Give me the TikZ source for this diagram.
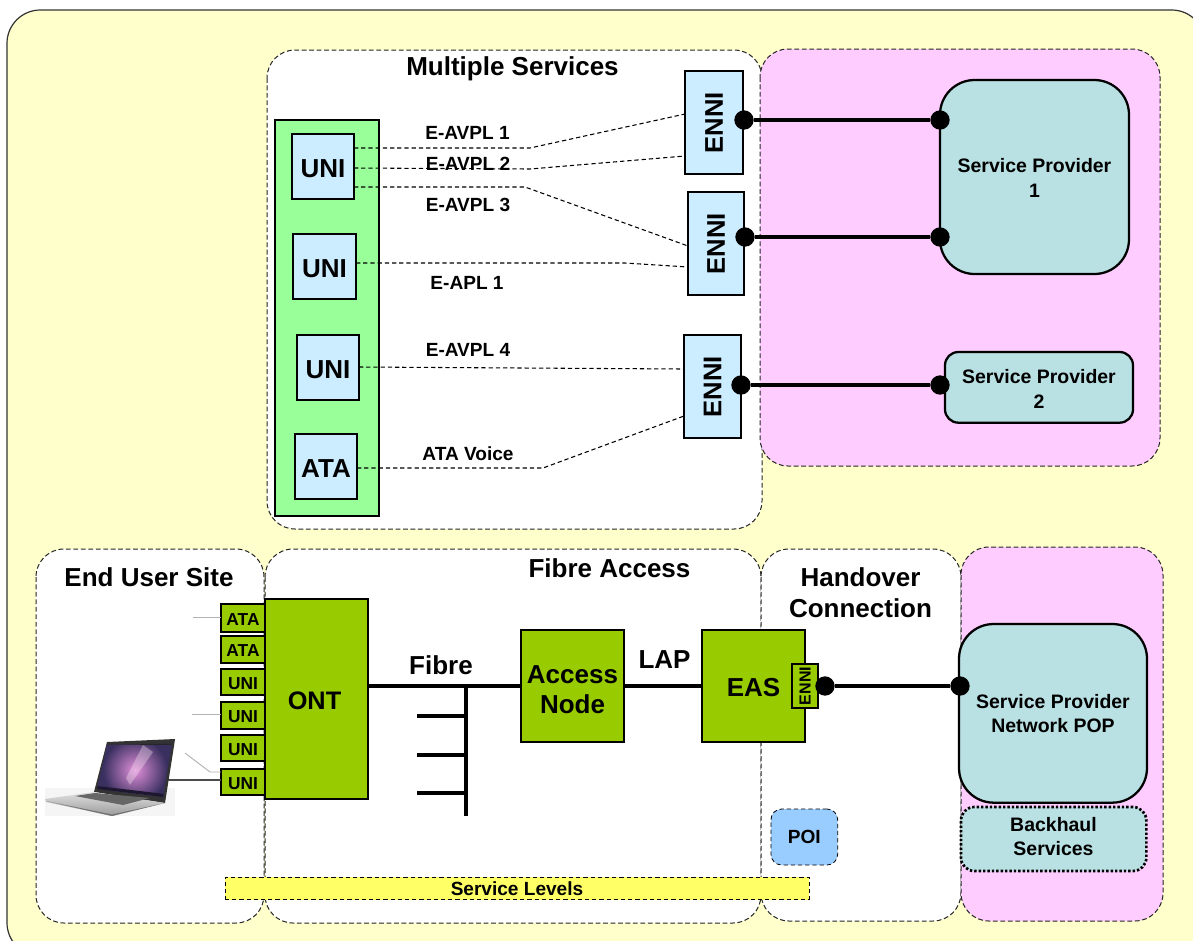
\documentclass[tikz,border=0pt]{standalone}
\usepackage{fontspec}
\setmainfont{Liberation Sans}
\definecolor{bgy}{HTML}{FFFFCC}
\definecolor{pinkb}{HTML}{FFCCFF}
\definecolor{mint}{HTML}{99FF99}
\definecolor{lblue}{HTML}{CCECFF}
\definecolor{teal2}{HTML}{B9E0E3}
\definecolor{olive2}{HTML}{99CC00}
\definecolor{poib}{HTML}{99CCFF}
\definecolor{yel}{HTML}{FFFF66}
\definecolor{scr}{HTML}{3A3060}
\definecolor{scrp}{HTML}{E090D8}
\newcommand{\fs}[1]{\fontsize{#1}{#1}\selectfont\bfseries}
\newcommand{\up}[1]{\rule{0pt}{#1pt}}
\tikzset{x=0.75pt,y=-0.75pt,every node/.style={outer sep=0pt},
  zone/.style={draw=black!85,dash pattern=on 3.6pt off 2pt,line width=0.75pt,rounded corners=21pt},
  ubox/.style={draw=black,line width=1.7pt,fill=lblue,inner sep=0pt,anchor=north west,align=center},
  gbox/.style={draw=black,line width=1.9pt,fill=olive2,inner sep=0pt,anchor=north west,align=center},
  sp/.style={draw=black,line width=1.7pt,fill=teal2,inner sep=0pt,anchor=north west,align=center},
  lbl/.style={inner sep=0pt,align=center,font=\fs{14.3}},
  title/.style={inner sep=0pt,align=center,font=\fs{19.5}},
  pipe/.style={line width=2.8pt,draw=black},
  svc/.style={draw=black,dash pattern=on 3.2pt off 2.2pt,line width=0.8pt},
  dot/.style={circle,fill=black,inner sep=0pt,minimum size=14.5pt},
  wire/.style={draw=black!30,line width=0.7pt}}
\newcommand{\bx}[6]{\node[#1,minimum width=#4*0.75pt,minimum height=#5*0.75pt] (#2) at (#3) {#6};}
\begin{document}
\begin{tikzpicture}
\useasboundingbox (0,0) rectangle (1193,940);
\clip (0,0) rectangle (1193,940);
\fill[white] (0,0) rectangle (1193,940);
\draw[fill=bgy,draw=black!80,line width=0.9pt,rounded corners=25pt] (7,10) rectangle (1205,956);
% zones
\draw[zone,fill=white] (267,50) rectangle (762,529);
\draw[zone,fill=pinkb] (760,49) rectangle (1160,466);
\draw[zone,fill=white] (36,549) rectangle (264,923);
\draw[zone,fill=white] (265,549) rectangle (761,923);
\draw[zone,fill=white] (761,549) rectangle (961,921);
\draw[zone,fill=pinkb] (961,547) rectangle (1163,921);
\node[title] (tms) at (512.5,68.5) {Multiple Services};
\node[title] (teu) at (149,577.5) {End User Site};
\node[title] (tfa) at (609.5,568.5) {Fibre Access};
\node[title] (tho) at (860.5,577.5) {Handover};
\node[title] (thc) at (860.5,608) {Connection};
% green panel
\node[draw=black,line width=1.7pt,fill=mint,inner sep=0pt,anchor=north west,minimum width=78pt,minimum height=297pt] (panel) at (275,120) {};
\bx{ubox,font=\fs{19.5}}{u1}{292,134}{62}{65}{\up{16}UNI}
\bx{ubox,font=\fs{19.5}}{u2}{293,234}{63}{65}{\up{16}UNI}
\bx{ubox,font=\fs{19.5}}{u3}{297,335}{62}{65}{\up{16}UNI}
\bx{ubox,font=\fs{19.5}}{a1}{295,434}{62}{65}{\up{16}ATA}
\bx{ubox}{e1}{685,71}{58}{103}{\rotatebox{90}{\fs{19.2}ENNI}}
\bx{ubox}{e2}{688,192}{56}{103}{\rotatebox{90}{\fs{19.2}ENNI}}
\bx{ubox}{e3}{684,335}{57}{103}{\rotatebox{90}{\fs{19.2}ENNI}}
\node[sp,rounded corners=26pt,minimum width=141.75pt,minimum height=145.5pt,font=\fs{14.6}] (sp1) at (940,80) {\up{12}Service Provider\\[3.5pt]1};
\node[sp,rounded corners=10pt,minimum width=141pt,minimum height=53pt,font=\fs{14.6}] (sp2) at (945,352) {\up{12.5}Service Provider\\[4pt]2};
% service connectors
\coordinate (k1) at (530,148); \coordinate (k2) at (530,169); \coordinate (k3) at (525,187); \coordinate (k4) at (625,263); \coordinate (k5) at (543,468);
\draw[svc] (u1.east|-k1) -- (k1) -- (e1.west|-0,114);
\draw[svc] (u1.east|-0,168) -- (k2) -- (e1.west|-0,156);
\draw[svc] (u1.east|-k3) -- (k3) -- (e2.west|-0,246);
\draw[svc] (u2.east|-k4) -- (k4) -- (e2.west|-0,267);
\draw[svc] (u3.east|-0,367) -- (e3.west|-0,369);
\draw[svc] (a1.east|-k5) -- (k5) -- (e3.west|-0,416);
\node[lbl] (l1) at (467.5,132.5) {E-AVPL 1};
\node[lbl] (l2) at (468,163.5) {E-AVPL 2};
\node[lbl] (l3) at (468,204.5) {E-AVPL 3};
\node[lbl] (l4) at (467,282.5) {E-APL 1};
\node[lbl] (l5) at (468,349.5) {E-AVPL 4};
\node[lbl] (l6) at (468,453.5) {ATA Voice};
% pipes with dots
\node[dot] (d1a) at (744,120) {}; \node[dot] (d1b) at (940,120) {};
\node[dot] (d2a) at (745,237) {}; \node[dot] (d2b) at (940,237) {};
\node[dot] (d3a) at (741,385) {}; \node[dot] (d3b) at (940,385) {};
\draw[pipe] (d1a) -- (d1b); \draw[pipe] (d2a) -- (d2b); \draw[pipe] (d3a) -- (d3b);
% lower
\bx{gbox,font=\fs{13}}{p1}{221,604}{44}{28}{\up{11}ATA}
\bx{gbox,font=\fs{13}}{p2}{221,636}{44}{27}{\up{11}ATA}
\bx{gbox,font=\fs{13}}{p3}{221,669}{44}{26}{\up{11}UNI}
\bx{gbox,font=\fs{13}}{p4}{221,702}{44}{27}{\up{11}UNI}
\bx{gbox,font=\fs{13}}{p5}{221,735}{44}{26}{\up{11}UNI}
\bx{gbox,font=\fs{13}}{p6}{221,769}{44}{26}{\up{11}UNI}
\bx{gbox,font=\fs{19}}{ont}{265,599}{103}{200}{\up{16.5}ONT\hspace*{3pt}}
\bx{gbox,font=\fs{19.5}}{an}{521,630}{103}{112}{\up{19}Access\\[3.5pt]Node}
\bx{gbox,font=\fs{19.5}}{eas}{702,630}{103}{112}{\up{15.5}EAS}
\bx{gbox,line width=1.3pt}{en}{792,664}{26}{44}{\rotatebox{90}{\fs{12}ENNI}}
\draw[pipe] (ont.east|-0,686) -- (an.west|-0,686);
\draw[pipe] (an.east|-0,686) -- (eas.west|-0,686);
\coordinate (tap) at (466,686); \coordinate (tapend) at (466,816);
\draw[pipe] (tap) -- (tapend);
\coordinate (s1) at (417,716); \coordinate (s2) at (417,755); \coordinate (s3) at (417,793);
\draw[pipe] (s1) -- (s1-|tap); \draw[pipe] (s2) -- (s2-|tap); \draw[pipe] (s3) -- (s3-|tap);
\node[font=\fs{19.5},inner sep=0pt] (fib) at (441,665) {Fibre};
\node[font=\fs{19.5},inner sep=0pt] (lap) at (664.5,660) {LAP};
\node[sp,rounded corners=26pt,minimum width=141pt,minimum height=134pt,font=\fs{14.6}] (pop) at (959,624) {\up{11}Service Provider\\[3.5pt]Network POP};
\node[sp,dash pattern=on 1.8pt off 1.5pt,line width=2pt,rounded corners=10pt,minimum width=139pt,minimum height=48pt] (bh) at (961,807) {};
\node[inner sep=0pt,align=center,font=\fs{14.6}] (bht) at (1053.5,836.5) {Backhaul\\[3.5pt]Services};
\node[draw=black,dash pattern=on 3.2pt off 2.2pt,line width=0.6pt,fill=poib,rounded corners=8pt,inner sep=0pt,anchor=north west,minimum width=50pt,minimum height=42pt,font=\fs{14.3}] (poi) at (771,809) {POI};
\node[draw=black,dash pattern=on 3.2pt off 2.2pt,line width=0.6pt,fill=yel,inner sep=0pt,anchor=north west,minimum width=438pt,minimum height=17pt,font=\fs{14.3}] (sl) at (225,877) {Service Levels};
\node[dot] (d4a) at (825,686) {}; \node[dot] (d4b) at (960,686) {};
\draw[pipe] (d4a) -- (d4b);
% laptop
\coordinate (w1) at (193,617); \coordinate (w2) at (192,714); \coordinate (w3) at (185,753); \coordinate (w4) at (210,772); \coordinate (w5) at (167,780);
\draw[wire] (w1) -- (w1-|p1.west);
\draw[wire] (w2) -- (w2-|p4.west);
\draw[wire] (w3) -- (w4) -- (p6.west|-w4);
\draw[black!70,line width=1.1pt] (w5) -- (w5-|p6.west);
\fill[black!4] (45,788) rectangle (175,816);
\fill[black!80] (107,742) -- (175,739) -- (174,746) -- (165,803) -- (94,792) -- cycle;
\begin{scope}
\clip (107,745) -- (172,743.5) -- (163,797) -- (97,789) -- cycle;
\fill[scr] (90,735) rectangle (180,805);
\shade[inner color=scrp,outer color=scr] (135,770) circle (32);
\fill[white!80!scrp,opacity=.35] (143,745) -- (153,752) -- (130,785) -- (126,778) -- cycle;
\fill[black!85] (90,735) rectangle (180,745);
\fill[black!50!scr] (97,786) -- (165,794) -- (165,800) -- (97,792) -- cycle;
\end{scope}
\shade[top color=black!12,bottom color=black!40] (45,799) -- (94,792) -- (165,803) -- (112,816) -- (46,802) -- cycle;
\fill[black!60] (75,796) -- (95,793) -- (150,798) -- (123,805) -- cycle;
\fill[black!55] (46,801) -- (112,814.5) -- (165,803) -- (112,816) -- cycle;
\end{tikzpicture}
\end{document}
